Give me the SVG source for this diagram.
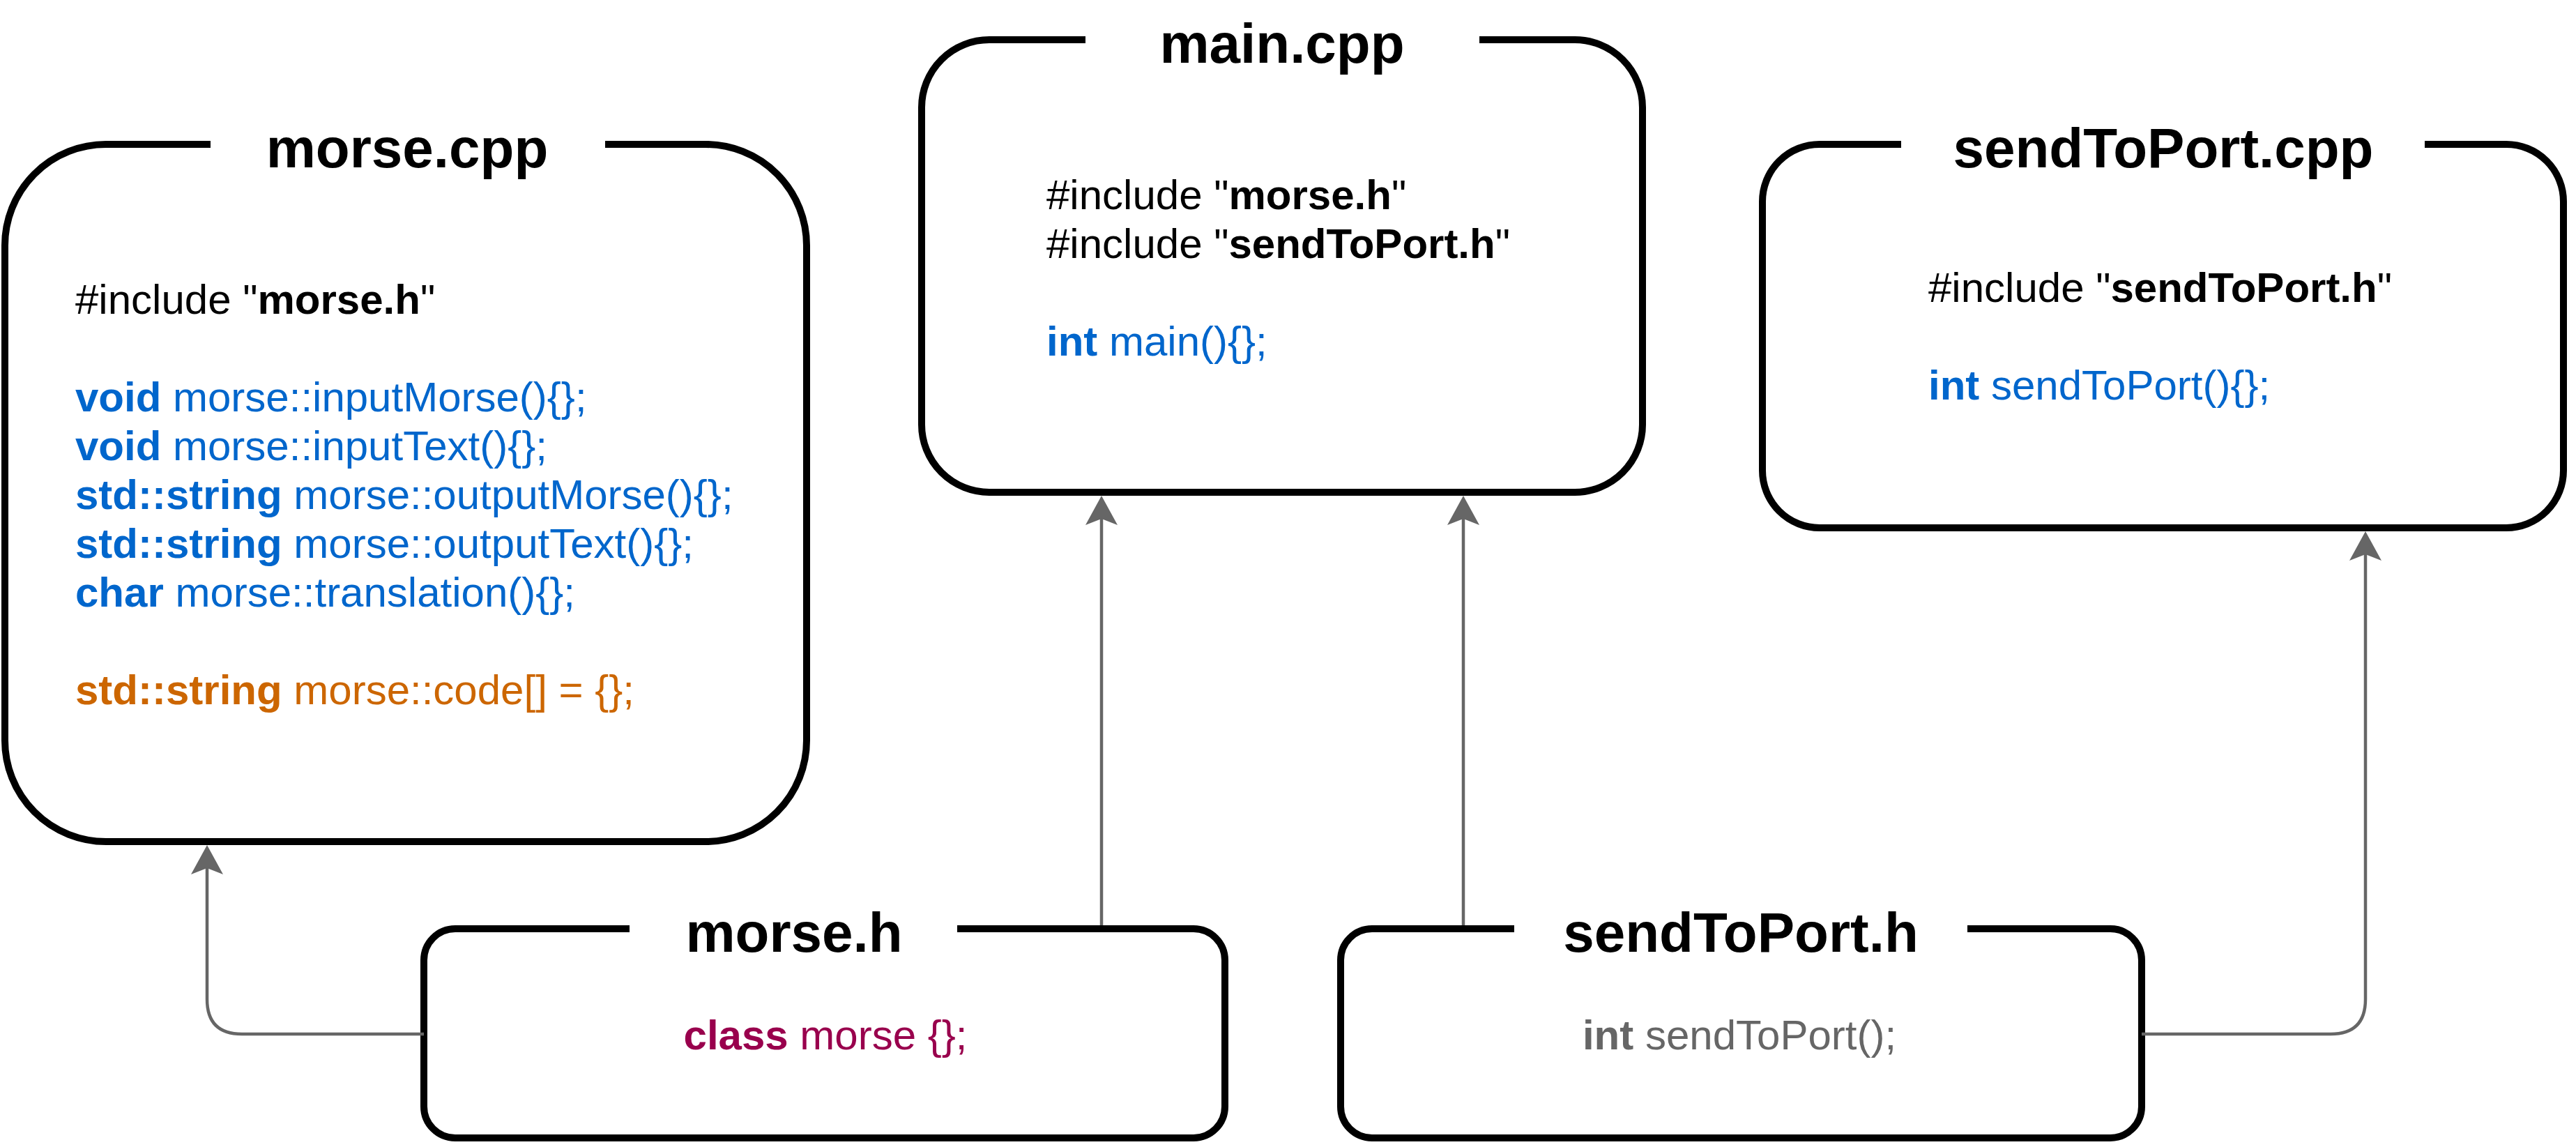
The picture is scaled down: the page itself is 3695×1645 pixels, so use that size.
<svg xmlns="http://www.w3.org/2000/svg" width="3695" height="1645" viewBox="0 0 3695 1645">
<style>
  .box { fill: none; stroke: #000000; stroke-width: 10; stroke-linecap: butt; stroke-linejoin: round; }
  .title { font-family: "Liberation Sans", Arial, Helvetica, sans-serif; font-size: 80px; font-weight: bold; fill: #000000; text-anchor: middle; }
  .code { font-family: "Liberation Sans", Arial, Helvetica, sans-serif; font-size: 60px; fill: #000000; }
  .mid { text-anchor: middle; }
  .b { font-weight: bold; }
  .blue { fill: #0066CC; }
  .orange { fill: #CC6600; }
  .maroon { fill: #99004D; }
  .gray { fill: #666666; }
  .edge { fill: none; stroke: #666666; stroke-width: 4.5; stroke-linejoin: round; marker-end: url(#arrow); }
</style>
<defs>
  <marker id="arrow" markerUnits="userSpaceOnUse" viewBox="0 0 42 46" markerWidth="42" markerHeight="46" refX="9" refY="23" orient="auto">
    <path d="M0,0 L42,23 L0,46 L9,23 Z" fill="#666666"/>
  </marker>
</defs>
<rect width="3695" height="1645" fill="#ffffff"/>

<g id="morse-cpp">
  <path class="box" d="M868 207 L1012 207 A145 145 0 0 1 1157 352 L1157 1062 A145 145 0 0 1 1012 1207 L152 1207 A145 145 0 0 1 7 1062 L7 352 A145 145 0 0 1 152 207 L302 207"/>
  <text class="title" x="584" y="240">morse.cpp</text>
  <text class="code" x="108" y="450">#include "<tspan class="b">morse.h</tspan>"</text>
  <text class="code blue" x="108" y="590"><tspan class="b">void</tspan> morse::inputMorse(){};</text>
  <text class="code blue" x="108" y="660"><tspan class="b">void</tspan> morse::inputText(){};</text>
  <text class="code blue" x="108" y="730"><tspan class="b">std::string</tspan> morse::outputMorse(){};</text>
  <text class="code blue" x="108" y="800"><tspan class="b">std::string</tspan> morse::outputText(){};</text>
  <text class="code blue" x="108" y="870"><tspan class="b">char</tspan> morse::translation(){};</text>
  <text class="code orange" x="108" y="1010"><tspan class="b">std::string</tspan> morse::code[] = {};</text>
</g>

<g id="main-cpp">
  <path class="box" d="M2122 57 L2259 57 A97 97 0 0 1 2356 154 L2356 609 A97 97 0 0 1 2259 706 L1419 706 A97 97 0 0 1 1322 609 L1322 154 A97 97 0 0 1 1419 57 L1557 57"/>
  <text class="title" x="1839" y="90">main.cpp</text>
  <text class="code" x="1501" y="300">#include "<tspan class="b">morse.h</tspan>"</text>
  <text class="code" x="1501" y="370">#include "<tspan class="b">sendToPort.h</tspan>"</text>
  <text class="code blue" x="1501" y="510"><tspan class="b">int</tspan> main(){};</text>
</g>

<g id="sendToPort-cpp">
  <path class="box" d="M3478 207 L3595 207 A82 82 0 0 1 3677 289 L3677 675 A82 82 0 0 1 3595 757 L2610 757 A82 82 0 0 1 2528 675 L2528 289 A82 82 0 0 1 2610 207 L2727 207"/>
  <text class="title" x="3103" y="240">sendToPort.cpp</text>
  <text class="code" x="2766" y="433">#include "<tspan class="b">sendToPort.h</tspan>"</text>
  <text class="code blue" x="2766" y="573"><tspan class="b">int</tspan> sendToPort(){};</text>
</g>

<g id="morse-h">
  <path class="box" d="M1373 1332 L1712 1332 A45 45 0 0 1 1757 1377 L1757 1587 A45 45 0 0 1 1712 1632 L653 1632 A45 45 0 0 1 608 1587 L608 1377 A45 45 0 0 1 653 1332 L903 1332"/>
  <text class="title" x="1139" y="1365">morse.h</text>
  <text class="code mid maroon" x="1184" y="1505"><tspan class="b">class</tspan> morse {};</text>
</g>

<g id="sendToPort-h">
  <path class="box" d="M2822 1332 L3027 1332 A45 45 0 0 1 3072 1377 L3072 1587 A45 45 0 0 1 3027 1632 L1968 1632 A45 45 0 0 1 1923 1587 L1923 1377 A45 45 0 0 1 1968 1332 L2172 1332"/>
  <text class="title" x="2497" y="1365">sendToPort.h</text>
  <text class="code mid gray" x="2495" y="1505"><tspan class="b">int</tspan> sendToPort();</text>
</g>

<g id="connectors">
  <path class="edge" d="M608 1483 L347 1483 Q297 1483 297 1433 L297 1245"/>
  <path class="edge" d="M1580 1327 L1580 744"/>
  <path class="edge" d="M2099 1327 L2099 744"/>
  <path class="edge" d="M3072 1483 L3343 1483 Q3393 1483 3393 1433 L3393 795"/>
</g>
</svg>
